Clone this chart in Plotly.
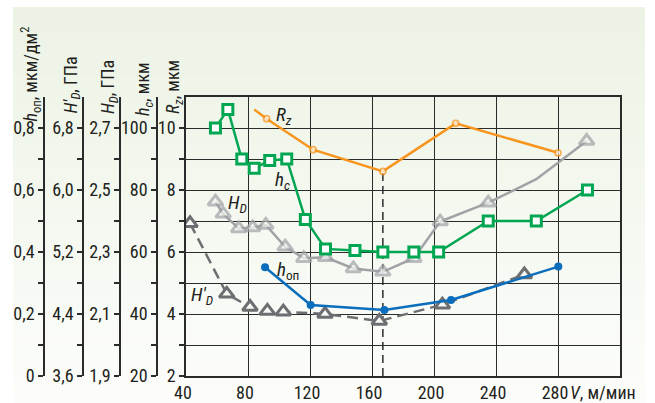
import plotly.graph_objects as go

# ---- data -------------------------------------------------------------
# cutting speed V, m/min, and the measured quantities
v_rz = [84, 92, 122, 167, 214, 280]
rz = [10.6, 10.3, 9.3, 8.6, 10.15, 9.2]            # R_z, um
rz_marked = [False, True, True, True, True, True]

v_hc = [59, 67, 76, 84, 94, 105, 117, 130, 149, 167, 187, 203, 235, 266, 299]
hc = [100, 106, 90, 87, 89.5, 90, 70.5, 61, 60.5, 60, 60, 60, 70, 70, 80]   # h_c, um

v_hd = [59, 64, 74, 83, 91.5, 104, 116, 130, 148, 167, 187, 204, 235, 266, 298.5]
hd = [2.462, 2.423, 2.376, 2.379, 2.387, 2.317, 2.28, 2.283, 2.247, 2.236,
      2.28, 2.398, 2.459, 2.535, 2.658]                                       # H_D, GPa
hd_marked = [True] * 13 + [False, True]

v_hd1 = [42.6, 66.3, 81.3, 92.5, 102.8, 129.7, 164.7, 205.4, 258.3]
hd1 = [5.57, 4.66, 4.49, 4.44, 4.43, 4.40, 4.31, 4.52, 4.91]               # H'_D, GPa

v_hop = [91, 120.4, 168, 211, 280.2]
hop = [0.351, 0.229, 0.213, 0.245, 0.353]                                  # h_op, um/dm2

# ---- tick labels ------------------------------------------------------
v_ticks = [40, 80, 120, 160, 200, 240, 280]
v_labels = ["40", "80", "120", "160", "200", "240", "280"]

rz_ticks = [2, 3, 4, 5, 6, 7, 8, 9, 10]
rz_labels = ["2", "", "4", "", "6", "", "8", "", "10"]

hc_ticks = [20, 30, 40, 50, 60, 70, 80, 90, 100]
hc_labels = ["20", "", "40", "", "60", "", "80", "", "100"]

hd_ticks = [1.9, 2.0, 2.1, 2.2, 2.3, 2.4, 2.5, 2.6, 2.7]
hd_labels = ["1,9", "", "2,1", "", "2,3", "", "2,5", "", "2,7"]

hd1_ticks = [3.6, 4.0, 4.4, 4.8, 5.2, 5.6, 6.0, 6.4, 6.8]
hd1_labels = ["3,6", "", "4,4", "", "5,2", "", "6,0", "", "6,8"]

hop_ticks = [0, 0.1, 0.2, 0.3, 0.4, 0.5, 0.6, 0.7, 0.8]
hop_labels = ["0", "", "0,2", "", "0,4", "", "0,6", "", "0,8"]

# ---- styling ----------------------------------------------------------
FONT = "Liberation Sans Narrow, Roboto Condensed, Roboto, sans-serif"
TXT = "#231F20"
GRID = "#2B2B2B"
ORANGE = "#F7941D"
GREEN = "#00A651"
LGRAY = "#A0A2A6"
DGRAY = "#6D6E71"
BLUE = "#0A6EBD"
FILL = "#F6F9F3"

W, H = 655, 403
ML, MR, MT, MB = 0, 35, 97, 27
PW, PH = W - ML - MR, H - MT - MB


def px_x(px):
    return px / PW


def px_y(py):
    return (H - MB - py) / PH


fig = go.Figure()

fig.add_trace(go.Scatter(
    x=v_rz, y=rz, yaxis="y", mode="lines+markers",
    line=dict(color=ORANGE, width=2.5),
    marker=dict(symbol="circle", size=[6 if m else 0 for m in rz_marked],
                color="white", line=dict(color=ORANGE, width=1.8)),
    showlegend=False))

fig.add_trace(go.Scatter(
    x=v_hd1, y=hd1, yaxis="y2", mode="lines+markers",
    line=dict(color=DGRAY, width=2.5, dash="11px,6px"),
    marker=dict(symbol="triangle-up", size=13, color=FILL,
                line=dict(color=DGRAY, width=3)),
    showlegend=False))

fig.add_trace(go.Scatter(
    x=v_hd, y=hd, yaxis="y3", mode="lines+markers",
    line=dict(color=LGRAY, width=2.5),
    marker=dict(symbol="triangle-up", size=[13 if m else 0 for m in hd_marked],
                color=FILL, line=dict(color=LGRAY, width=3)),
    showlegend=False))

fig.add_trace(go.Scatter(
    x=v_hop, y=hop, yaxis="y4", mode="lines+markers",
    line=dict(color=BLUE, width=2.5),
    marker=dict(symbol="circle", size=8, color=BLUE),
    showlegend=False))

fig.add_trace(go.Scatter(
    x=v_hc, y=hc, yaxis="y5", mode="lines+markers",
    line=dict(color=GREEN, width=2.5),
    marker=dict(symbol="square", size=10, color="white",
                line=dict(color=GREEN, width=3)),
    showlegend=False))

# dashed reference line at the minimum of R_z
i_min = rz.index(min(rz))
fig.add_shape(type="line", xref="x", yref="y",
              x0=v_rz[i_min], x1=v_rz[i_min], y0=2, y1=rz[i_min],
              line=dict(color="#3A3A3A", width=1.6, dash="8px,5px"), layer="below")

# soft green-to-white background
n_bands = 40
top, bottom = 7, H
for i in range(n_bands):
    t = i / (n_bands - 1)
    r = round(236 + (252 - 236) * t)
    g = round(243 + (253 - 243) * t)
    b = round(229 + (250 - 229) * t)
    y0 = top + (bottom - top) * i / n_bands
    y1 = top + (bottom - top) * (i + 1) / n_bands + 1
    fig.add_shape(type="rect", xref="paper", yref="paper",
                  x0=px_x(13), x1=px_x(645), y0=px_y(y1), y1=px_y(y0),
                  fillcolor=f"rgb({r},{g},{b})", line=dict(width=0), layer="below")

tick_font = dict(family=FONT, size=18, color=TXT)


def side_axis(ticks, labels, rng, pos):
    return dict(range=rng, tickmode="array", tickvals=ticks, ticktext=labels,
                anchor="free", overlaying="y", side="left", position=pos,
                showgrid=False, zeroline=False, showline=True, linecolor=GRID,
                linewidth=1.5, ticks="outside", ticklen=5, tickwidth=1.5,
                tickcolor=GRID, tickfont=tick_font, automargin=False)


fig.update_layout(
    width=W, height=H,
    margin=dict(l=ML, r=MR, t=MT, b=MB),
    paper_bgcolor="white",
    plot_bgcolor="rgba(0,0,0,0)",
    font=dict(family=FONT, color=TXT),
    xaxis=dict(domain=[186 / PW, 1], range=[40, 320], tickmode="array",
               tickvals=v_ticks, ticktext=v_labels, tickfont=tick_font,
               ticklabelshift=-3,
               showgrid=True, gridcolor=GRID, gridwidth=1.3, zeroline=False,
               showline=True, linecolor=GRID, linewidth=1.5, mirror=True,
               ticks="", automargin=False),
    yaxis=dict(range=[2, 11], tickmode="array", tickvals=rz_ticks, ticktext=rz_labels,
               showgrid=True, gridcolor=GRID, gridwidth=1.3, zeroline=False,
               showline=True, linecolor=GRID, linewidth=1.5, mirror=True,
               ticks="outside", ticklen=5, tickwidth=1.5, tickcolor=GRID,
               tickfont=tick_font, automargin=False),
    yaxis2=side_axis(hd1_ticks, hd1_labels, [3.6, 7.2], px_x(83)),
    yaxis3=side_axis(hd_ticks, hd_labels, [1.9, 2.8], px_x(120)),
    yaxis4=side_axis(hop_ticks, hop_labels, [0, 0.9], px_x(44)),
    yaxis5=side_axis(hc_ticks, hc_labels, [20, 110], px_x(157)),
)

# vertical axis titles
titles = [
    ("<i>h</i><sub>оп</sub>, мкм/дм<sup>2</sup>", 30, 124),
    ("<i>H′<sub>D</sub></i>, ГПа", 71, 116),
    ("<i>H<sub>D</sub></i>, ГПа", 109, 116),
    ("<i>h<sub>c</sub></i>, мкм", 144, 118),
    ("<i>R<sub>z</sub></i>, мкм", 174, 116),
]
for text, cx, by in titles:
    fig.add_annotation(text=text, xref="paper", yref="paper", x=px_x(cx), y=px_y(by),
                       xanchor="center", yanchor="bottom", textangle=-90,
                       showarrow=False, font=dict(family=FONT, size=18, color=TXT))

# curve labels
curve_labels = [
    ("<i>R<sub>z</sub></i>", 103.5, 10.41),
    ("<i>h<sub>c</sub></i>", 102.5, 8.31),
    ("<i>H<sub>D</sub></i>", 73, 7.57),
    ("<i>h</i><sub>оп</sub>", 106, 5.41),
    ("<i>H′<sub>D</sub></i>", 50.3, 4.61),
]
for text, xv, yv in curve_labels:
    fig.add_annotation(text=text, xref="x", yref="y", x=xv, y=yv,
                       showarrow=False, font=dict(family=FONT, size=19, color=TXT))

# x-axis name in place of the last tick label
fig.add_annotation(text="<i>V</i>, м/мин", xref="paper", yref="paper",
                   x=px_x(568), y=px_y(392), xanchor="left", yanchor="middle",
                   showarrow=False, font=dict(family=FONT, size=18, color=TXT))

fig.write_html("out.html")
